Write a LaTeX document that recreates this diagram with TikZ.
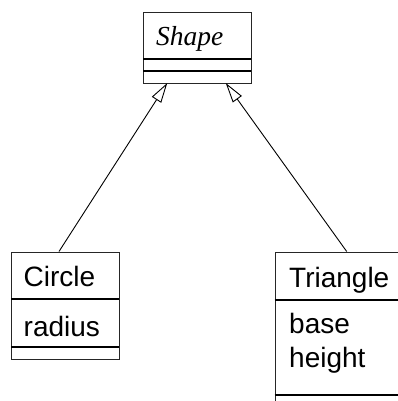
\documentclass[tikz,border=0pt]{standalone}
\usepackage{fontspec}
\setmainfont{Liberation Sans}
\newfontfamily\umlserif{Liberation Serif}
\usetikzlibrary{arrows.meta}
\begin{document}
\begin{tikzpicture}[x=1pt,y=-1pt,
  box/.style={draw=black!85, line width=1pt, inner sep=0pt, anchor=north west},
  sepline/.style={draw=black, line width=1.3pt},
  thicksep/.style={draw=black, line width=1.8pt},
  lbl/.style={anchor=base west, inner sep=0pt, font=\fontsize{28}{34}\selectfont},
  inherit/.style={draw=black, line width=0.9pt, -{Triangle[open,length=20pt,width=11pt,line width=0.9pt]}}]
\useasboundingbox (0,0) rectangle (398,401);
\clip (0,0) rectangle (398,401);
% Shape class
\node[box, minimum width=107.7pt, minimum height=71pt] (shape) at (143,12) {};
\draw[thicksep] (143,59) -- (250.7,59);
\draw[thicksep] (143,71) -- (250.7,71);
\node[lbl, font=\fontsize{27.5}{33}\selectfont\umlserif\itshape] (shapet) at (156,46) {Shape};
% Circle class
\node[box, minimum width=108pt, minimum height=107.5pt] (circle) at (11,251.5) {};
\draw[sepline] (11,299) -- (119,299);
\draw[sepline] (11,347) -- (119,347);
\node[lbl] (circlet) at (23.5,286.5) {Circle};
\node[lbl] (radius) at (23.5,336) {radius};
% Triangle class
\node[box, minimum width=160pt, minimum height=170pt] (triangle) at (274.5,251.5) {};
\draw[sepline] (274.5,300) -- (398,300);
\draw[sepline] (274.5,395) -- (398,395);
\node[lbl] (trianglet) at (289,287) {Triangle};
\node[lbl] (base) at (289,333.5) {base};
\node[lbl] (height) at (289,367) {height};
% connectors
\coordinate (shapeL) at (167.3,83);
\coordinate (shapeR) at (225.7,83);
\coordinate (circleTop) at (59,251.5);
\coordinate (triangleTop) at (346.7,251.5);
\draw[inherit] (circleTop) -- (shapeL);
\draw[inherit] (triangleTop) -- (shapeR);
\end{tikzpicture}
\end{document}
